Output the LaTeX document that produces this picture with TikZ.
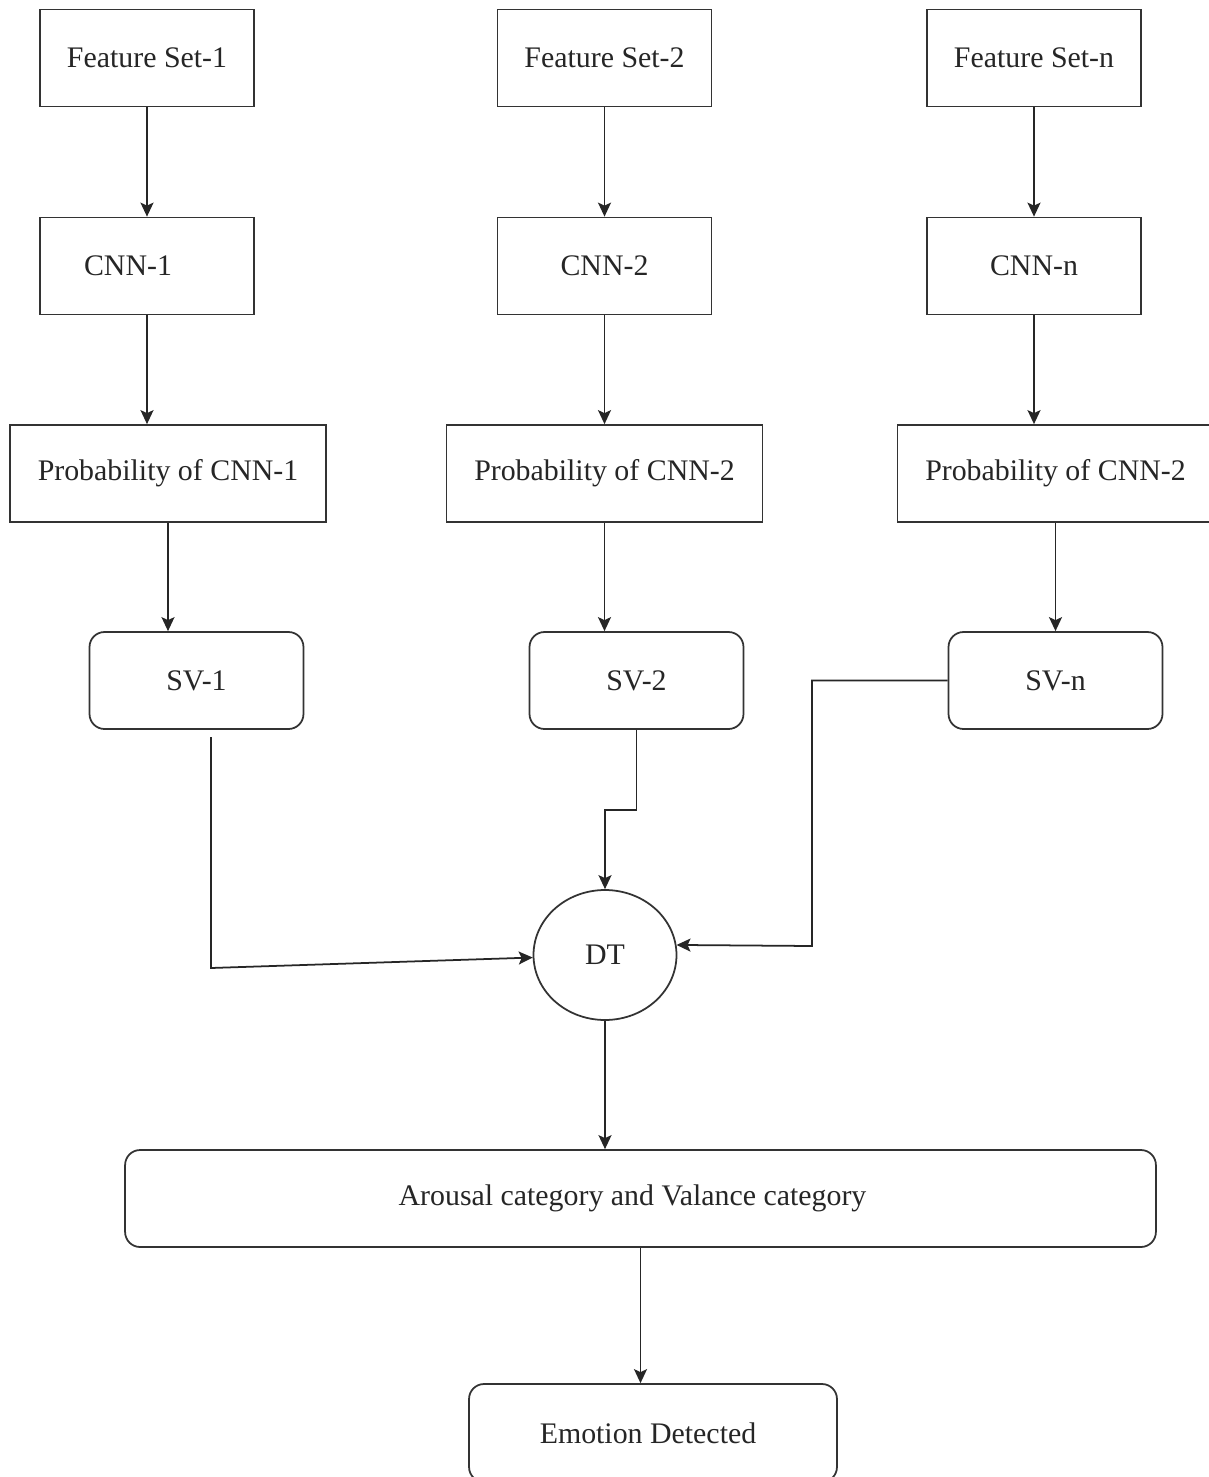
\documentclass[tikz,border=0pt]{standalone}
\usepackage{fontspec}
\setmainfont{Liberation Serif}
\usetikzlibrary{arrows.meta,shapes.geometric}
\begin{document}
\begin{tikzpicture}[x=0.02cm,y=-0.02cm,
  every node/.style={font=\fontsize{17}{20}\selectfont, text=black!85},
  sqbox/.style={draw=black!80, line width=1pt, minimum width=4.28cm, minimum height=1.94cm, inner sep=0pt},
  probbox/.style={sqbox, minimum width=6.32cm},
  rbox/.style={sqbox, rounded corners=0.3cm},
  conn/.style={draw=black!85, line width=1pt, -{Stealth[length=0.28cm,width=0.26cm,inset=0.06cm]}}
]
\useasboundingbox[fill=white] (0,0) rectangle (1208,1477);
% row 1
\node[sqbox] (fs1) at (147,58) {Feature Set-1};
\node[sqbox] (fs2) at (604.5,58) {Feature Set-2};
\node[sqbox] (fs3) at (1034,58) {Feature Set-n};
% row 2
\node[sqbox] (c1) at (147,266) {CNN-1\rule{0.76cm}{0pt}};
\node[sqbox] (c2) at (604.5,266) {CNN-2};
\node[sqbox] (c3) at (1034,266) {CNN-n};
% row 3
\node[probbox] (p1) at (168,473.5) {Probability of CNN-1};
\node[probbox] (p2) at (604.5,473.5) {Probability of CNN-2};
\node[probbox] (p3) at (1055.5,473.5) {Probability of CNN-2};
% row 4
\node[rbox] (s1) at (196.5,680.5) {SV-1};
\node[rbox] (s2) at (636.5,680.5) {SV-2};
\node[rbox] (s3) at (1055.5,680.5) {SV-n};
% DT
\node[draw=black!80, line width=1pt, ellipse, minimum width=2.86cm, minimum height=2.6cm, inner sep=0pt] (dt) at (605,955) {DT};
% bottom
\node[rbox, minimum width=20.62cm, minimum height=1.94cm] (ar) at (640.5,1198.5) {\hspace*{-0.32cm}Arousal category and Valance category};
\node[rbox, minimum width=7.36cm, minimum height=1.96cm] (em) at (653,1433) {\hspace*{-0.2cm}Emotion Detected};
% connectors
\draw[conn] (fs1) -- (c1);
\draw[conn] (fs2) -- (c2);
\draw[conn] (fs3) -- (c3);
\draw[conn] (c1) -- (p1.north -| c1);
\draw[conn] (c2) -- (p2.north -| c2);
\draw[conn] (c3) -- (p3.north -| c3);
\draw[conn] (p1) -- (s1.north -| p1);
\draw[conn] (p2) -- (s2.north -| p2);
\draw[conn] (p3) -- (s3);
\coordinate (s1out) at (211,737);
\draw[conn] (s1out) -- (211,968) -- (dt.182);
\draw[conn] (s2.south) -- (636.5,810) -- (605,810) -- (dt.north);
\draw[conn] (s3.west) -- (812,680.5) -- (812,946) -- (dt.8);
\draw[conn] (dt) -- (ar.north -| dt);
\draw[conn] (ar) -- (em.north -| ar);
\end{tikzpicture}
\end{document}
